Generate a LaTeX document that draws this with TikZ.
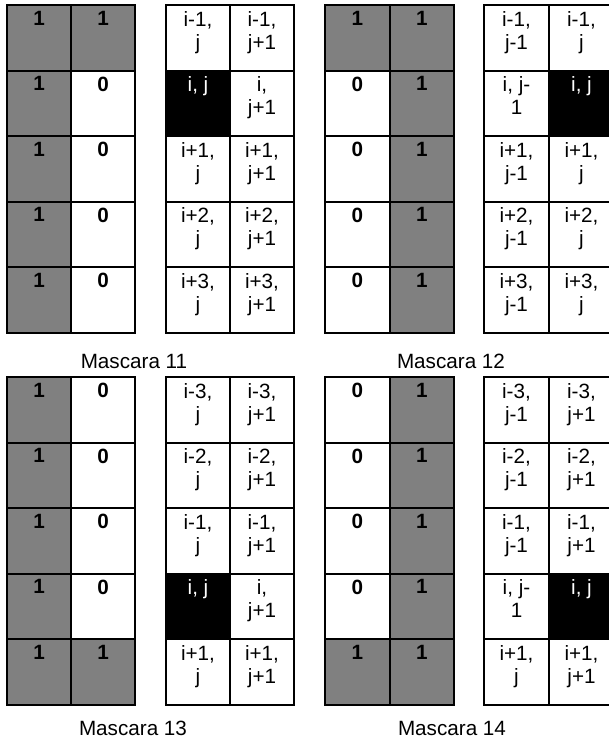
\documentclass[tikz,border=0pt]{standalone}
\usepackage{fontspec}
\setmainfont{Liberation Sans}
\definecolor{cellgray}{HTML}{808080}
\newcommand\bingrid[5]{%
  \foreach \r/\a/\fa/\b/\fb in {#5} {
    \node[cell, minimum width=#4*0.75pt, fill=\fa] (#1-\r-1) at ({#2+#4*0.5}, {#3+65.5*\r-32.75}) {};
    \node[cell, minimum width=#4*0.75pt, fill=\fb] (#1-\r-2) at ({#2+#4*1.5}, {#3+65.5*\r-32.75}) {};
    \node[bintext] (#1-\r-1t) at (#1-\r-1.north) {\a};
    \node[bintext] (#1-\r-2t) at (#1-\r-2.north) {\b};
  }}
\newcommand\idxgrid[5]{%
  \foreach \r/\a/\fa/\ta/\b/\fb/\tb in {#5} {
    \node[cell, minimum width=#4*0.75pt, fill=\fa] (#1-\r-1) at ({#2+#4*0.5}, {#3+65.5*\r-32.75}) {};
    \node[cell, minimum width=#4*0.75pt, fill=\fb] (#1-\r-2) at ({#2+#4*1.5}, {#3+65.5*\r-32.75}) {};
    \node[idxtext, text=\ta] (#1-\r-1t) at (#1-\r-1.north) {\a};
    \node[idxtext, text=\tb] (#1-\r-2t) at (#1-\r-2.north) {\b};
  }}
\begin{document}
\begin{tikzpicture}[x=0.75pt,y=-0.75pt,
  cell/.style={draw=black, line width=1.5pt, rectangle, minimum height=49.125pt, inner sep=0pt},
  bintext/.style={anchor=north, yshift=-5.25pt, inner sep=0pt, font={\fontsize{15.5}{17.25}\selectfont\bfseries}},
  idxtext/.style={anchor=north, yshift=-5.25pt, inner sep=0pt, align=center, font={\fontsize{15.5}{17.25}\selectfont}},
  lab/.style={anchor=base, inner sep=0pt, font={\fontsize{15.5}{17.25}\selectfont}}]
\clip (0,0) rectangle (609,747);
\useasboundingbox (0,0) rectangle (609,747);
\fill[white] (0,0) rectangle (609,747);
% Mascara 11
\bingrid{a}{7}{5}{64}{1/1/cellgray/1/cellgray, 2/1/cellgray/0/white, 3/1/cellgray/0/white, 4/1/cellgray/0/white, 5/1/cellgray/0/white}
\idxgrid{b}{166}{5}{64}{1/{i-1,\\j}/white/black/{i-1,\\j+1}/white/black,
  2/{i, j}/black/white/{i,\\j+1}/white/black,
  3/{i+1,\\j}/white/black/{i+1,\\j+1}/white/black,
  4/{i+2,\\j}/white/black/{i+2,\\j+1}/white/black,
  5/{i+3,\\j}/white/black/{i+3,\\j+1}/white/black}
% Mascara 12
\bingrid{c}{325}{5}{64.5}{1/1/cellgray/1/cellgray, 2/0/white/1/cellgray, 3/0/white/1/cellgray, 4/0/white/1/cellgray, 5/0/white/1/cellgray}
\idxgrid{d}{484}{5}{65}{1/{i-1,\\j-1}/white/black/{i-1,\\j}/white/black,
  2/{i, j-\\1}/white/black/{i, j}/black/white,
  3/{i+1,\\j-1}/white/black/{i+1,\\j}/white/black,
  4/{i+2,\\j-1}/white/black/{i+2,\\j}/white/black,
  5/{i+3,\\j-1}/white/black/{i+3,\\j}/white/black}
% Mascara 13
\bingrid{e}{7}{377}{64}{1/1/cellgray/0/white, 2/1/cellgray/0/white, 3/1/cellgray/0/white, 4/1/cellgray/0/white, 5/1/cellgray/1/cellgray}
\idxgrid{f}{166}{377}{64}{1/{i-3,\\j}/white/black/{i-3,\\j+1}/white/black,
  2/{i-2,\\j}/white/black/{i-2,\\j+1}/white/black,
  3/{i-1,\\j}/white/black/{i-1,\\j+1}/white/black,
  4/{i, j}/black/white/{i,\\j+1}/white/black,
  5/{i+1,\\j}/white/black/{i+1,\\j+1}/white/black}
% Mascara 14
\bingrid{g}{325}{377}{64.5}{1/0/white/1/cellgray, 2/0/white/1/cellgray, 3/0/white/1/cellgray, 4/0/white/1/cellgray, 5/1/cellgray/1/cellgray}
\idxgrid{h}{484}{377}{65}{1/{i-3,\\j-1}/white/black/{i-3,\\j+1}/white/black,
  2/{i-2,\\j-1}/white/black/{i-2,\\j+1}/white/black,
  3/{i-1,\\j-1}/white/black/{i-1,\\j+1}/white/black,
  4/{i, j-\\1}/white/black/{i, j}/black/white,
  5/{i+1,\\j}/white/black/{i+1,\\j+1}/white/black}
% labels
\node[lab] (l11) at (134,368) {Mascara 11};
\node[lab] (l12) at (451,368) {Mascara 12};
\node[lab] (l13) at (133,735) {Mascara 13};
\node[lab] (l14) at (452,735) {Mascara 14};
\end{tikzpicture}
\end{document}
